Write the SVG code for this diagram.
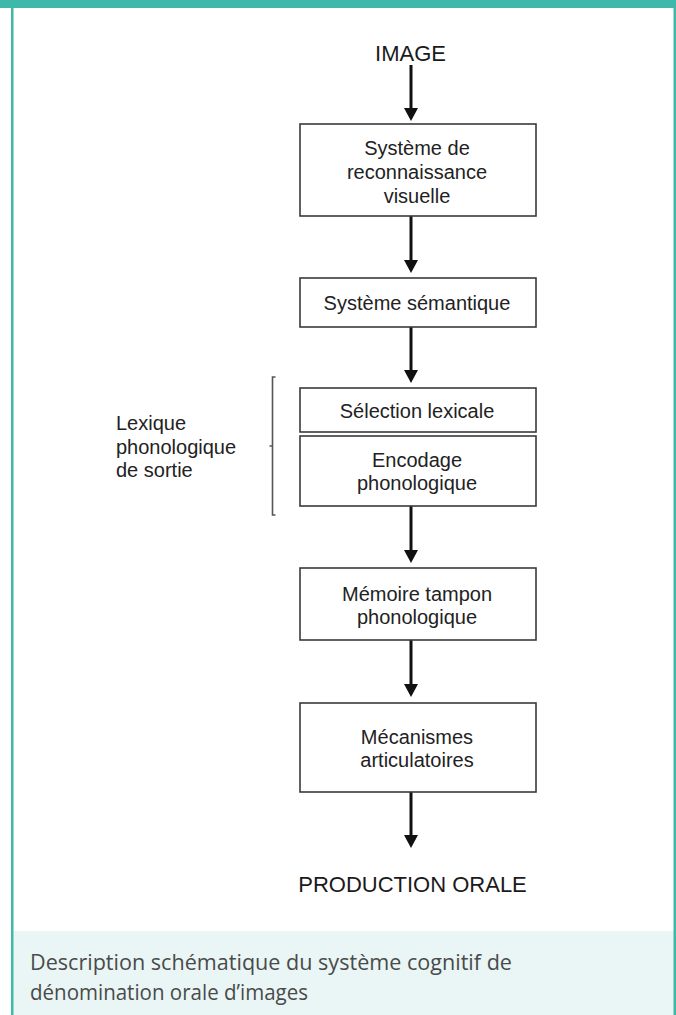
<svg xmlns="http://www.w3.org/2000/svg" width="676" height="1015" viewBox="0 0 676 1015">
  <style>
    .box { fill: #ffffff; stroke: #3a3a3a; stroke-width: 1.6; }
    .t { font-family: "Liberation Sans", Arial, sans-serif; font-size: 20px; fill: #222222; text-anchor: middle; }
    .big { font-family: "Liberation Sans", Arial, sans-serif; font-size: 22px; fill: #1a1a1a; text-anchor: middle; }
    .lbl { font-family: "Liberation Sans", Arial, sans-serif; font-size: 20px; fill: #222222; }
    .cap { font-family: "Open Sans", Lato, sans-serif; font-size: 21px; fill: #4a4a4a; }
    .arr { stroke: #111111; stroke-width: 3; fill: none; marker-end: url(#ah); }
  </style>
  <defs>
    <marker id="ah" viewBox="0 0 13 14" refX="1" refY="7" markerWidth="13" markerHeight="14" markerUnits="userSpaceOnUse" orient="auto">
      <path d="M0,0 L13,7 L0,14 z" fill="#111111"/>
    </marker>
  </defs>

  <g id="frame">
    <rect x="0" y="0" width="676" height="1015" fill="#ffffff"/>
    <rect x="13" y="931" width="661" height="84" fill="#e9f6f5"/>
    <rect x="0" y="0" width="676" height="8" fill="#3fb8a9"/>
    <rect x="11" y="0" width="2.5" height="1015" fill="#3fb8a9"/>
    <rect x="673.5" y="0" width="2.5" height="1015" fill="#3fb8a9"/>
  </g>

  <g id="connectors">
    <line class="arr" x1="411" y1="65" x2="411" y2="109"/>
    <line class="arr" x1="411" y1="216" x2="411" y2="261"/>
    <line class="arr" x1="411" y1="327" x2="411" y2="371"/>
    <line class="arr" x1="411" y1="506" x2="411" y2="551"/>
    <line class="arr" x1="411" y1="640" x2="411" y2="685"/>
    <line class="arr" x1="411" y1="792" x2="411" y2="836"/>
  </g>

  <g id="image">
    <text class="big" x="410.5" y="61">IMAGE</text>
  </g>

  <g id="reconnaissance">
    <rect class="box" x="300" y="124" width="236" height="92"/>
    <text class="t" x="417" y="155">Système de</text>
    <text class="t" x="417" y="179">reconnaissance</text>
    <text class="t" x="417" y="203">visuelle</text>
  </g>

  <g id="semantique">
    <rect class="box" x="300" y="278" width="236" height="49"/>
    <text class="t" x="417" y="310">Système sémantique</text>
  </g>

  <g id="selection">
    <rect class="box" x="300" y="388" width="236" height="44"/>
    <text class="t" x="417" y="418">Sélection lexicale</text>
  </g>

  <g id="encodage">
    <rect class="box" x="300" y="436" width="236" height="70"/>
    <text class="t" x="417" y="467">Encodage</text>
    <text class="t" x="417" y="490">phonologique</text>
  </g>

  <g id="lexique">
    <path d="M275.5,377 L272.5,377 L272.5,515 L275.5,515 M272.5,446 L269.5,446" fill="none" stroke="#555555" stroke-width="1.6"/>
    <text class="lbl" x="116" y="430">Lexique</text>
    <text class="lbl" x="116" y="454">phonologique</text>
    <text class="lbl" x="116" y="477">de sortie</text>
  </g>

  <g id="memoire">
    <rect class="box" x="300" y="568" width="236" height="72"/>
    <text class="t" x="417" y="601">Mémoire tampon</text>
    <text class="t" x="417" y="624">phonologique</text>
  </g>

  <g id="mecanismes">
    <rect class="box" x="300" y="703" width="236" height="89"/>
    <text class="t" x="417" y="744">Mécanismes</text>
    <text class="t" x="417" y="767">articulatoires</text>
  </g>

  <g id="production">
    <text class="big" x="412.5" y="892">PRODUCTION ORALE</text>
  </g>

  <g id="caption">
    <text class="cap" x="30" y="970" textLength="482" lengthAdjust="spacingAndGlyphs">Description schématique du système cognitif de</text>
    <text class="cap" x="30" y="1000" textLength="278" lengthAdjust="spacingAndGlyphs">dénomination orale d’images</text>
  </g>
</svg>
